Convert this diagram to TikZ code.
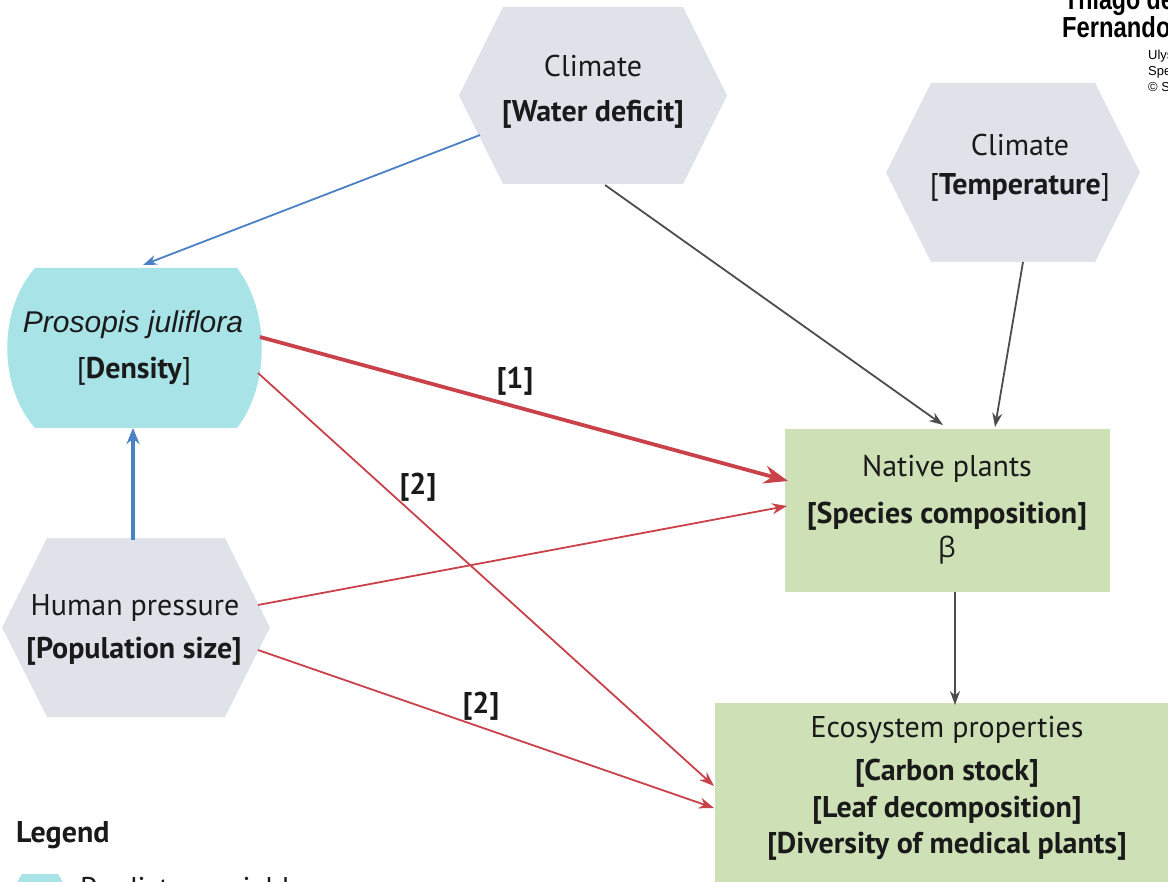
\documentclass[tikz,border=0pt]{standalone}
\usepackage{fontspec}
\setmainfont{PT Sans}
\newfontfamily\arialf{Liberation Sans}
\newfontfamily\grkf{Open Sans}
\usetikzlibrary{arrows.meta,calc}
\definecolor{hexgray}{HTML}{E0E2EA}
\definecolor{cyanf}{HTML}{A8E3E7}
\definecolor{greenf}{HTML}{CEE0B5}
\definecolor{redc}{HTML}{C9424A}
\definecolor{bluec}{HTML}{4A80C4}
\definecolor{grayc}{HTML}{4D4D4D}
\definecolor{textc}{HTML}{1A1A1A}
\tikzset{
  holder/.style={inner sep=0, outer sep=0, draw=none, rectangle},
  ln/.style={anchor=base, inner sep=0, text=textc, font=\fontsize{30}{34}\selectfont},
  tag/.style={anchor=base, inner sep=0, text=textc, font=\fontsize{30}{34}\selectfont\bfseries},
  thin/.style={line width=1.8pt},
  bluethin/.style={thin, draw=bluec, -{Stealth[length=14pt,width=10pt]}},
  bluethick/.style={line width=3.5pt, draw=bluec, -{Stealth[length=16pt,width=13pt]}},
  graythin/.style={thin, draw=grayc, -{Stealth[length=14pt,width=10pt]}},
  redthin/.style={thin, draw=redc, -{Stealth[length=15pt,width=11pt]}},
  redthick/.style={line width=3.8pt, draw=redc, -{Stealth[length=24pt,width=18pt]}},
}
\begin{document}
\begin{tikzpicture}[x=1pt,y=-1pt]
\useasboundingbox (0,0) rectangle (1168,882);
\clip (0,0) rectangle (1168,882);

% ---- shapes ----
\fill[hexgray] (459,95.5)--(503,7)--(683,7)--(727,95.5)--(683,184)--(503,184)--cycle;
\node[holder, minimum width=268, minimum height=177] (wd) at (593,95.5) {};

\fill[hexgray] (886,172.5)--(931,83)--(1095,83)--(1140,172.5)--(1095,262)--(931,262)--cycle;
\node[holder, minimum width=254, minimum height=179] (tp) at (1013,172.5) {};

\fill[hexgray] (2,627.5)--(47,538)--(225,538)--(270,627.5)--(225,717)--(47,717)--cycle;
\node[holder, minimum width=268, minimum height=179] (hp) at (136,627.5) {};

\fill[cyanf] (35,268) -- (237,268) .. controls (270,310) and (270,386) .. (237,428)
  -- (35,428) .. controls (-2,386) and (-2,310) .. (35,268) -- cycle;
\node[holder, minimum width=255, minimum height=160] (pj) at (134.5,348) {};

\node[holder, fill=greenf, minimum width=325, minimum height=163] (np) at (947.5,510.5) {};
\node[holder, fill=greenf, minimum width=475, minimum height=202] (ep) at (952.5,804) {};

% ---- texts ----
\node[ln] (wd1) at (593,77) {Climate};
\node[ln] (wd2) at (593,122) {\textbf{[Water deficit]}};
\node[ln] (tp1) at (1020,156) {Climate};
\node[ln] (tp2) at (1020,195) {[\textbf{Temperature}]};
\node[ln, font=\fontsize{30}{34}\selectfont\arialf\itshape] (pj1) at (133,333) {Prosopis juliflora};
\node[ln] (pj2) at (134,379) {[\textbf{Density}]};
\node[ln] (hp1) at (135,615) {Human pressure};
\node[ln] (hp2) at (134,658) {\textbf{[Population size]}};
\node[ln] (np1) at (947,477) {Native plants};
\node[ln] (np2) at (947,523) {\textbf{[Species composition]}};
\node[ln, font=\fontsize{28}{34}\selectfont\grkf] (np3) at (947,557) {β};
\node[ln] (ep1) at (947,737) {Ecosystem properties};
\node[ln] (ep2) at (947,780) {\textbf{[Carbon stock]}};
\node[ln] (ep3) at (947,817) {\textbf{[Leaf decomposition]}};
\node[ln] (ep4) at (947,853) {\textbf{[Diversity of medical plants]}};

% ---- connectors ----
\draw[bluethin] ($(wd.north west)+(21,128)$) -- ($(pj.north west)+(136,-3)$);
\draw[bluethick] ($(hp.north west)+(131,2)$) -- ($(pj.south west)+(126,0)$);
\draw[graythin] ($(wd.south west)+(146,1)$) -- ($(np.north west)+(158,-4)$);
\draw[graythin] ($(tp.south west)+(137,0)$) -- ($(np.north west)+(210,-2)$);
\draw[graythin] ($(np.south west)+(170,0)$) -- ($(ep.north west)+(240,2)$);
\draw[redthick] ($(pj.east)+(-2,-11)$) -- ($(np.west)+(3,-29.5)$);
\draw[redthin] ($(pj.east)+(-4,25)$) -- ($(ep.west)+(-1,-18)$);
\draw[redthin] ($(hp.east)+(-12,-22.5)$) -- ($(np.west)+(2,-4.5)$);
\draw[redthin] ($(hp.east)+(-12,22.5)$) -- ($(ep.west)+(-1,4)$);

\node[tag] (t1) at (515,389) {[1]};
\node[tag] (t2) at (418,495) {[2]};
\node[tag] (t3) at (481,713) {[2]};

% ---- legend ----
\node[anchor=base west, inner sep=0, text=textc, font=\fontsize{30}{34}\selectfont\bfseries] (leg) at (16,842) {Legend};
\fill[cyanf] (22,874) -- (58,874) .. controls (66,884) and (66,900) .. (58,910)
  -- (22,910) .. controls (14,900) and (14,884) .. (22,874) -- cycle;
\node[holder, minimum width=50, minimum height=36] (sw) at (40,892) {};
\node[ln, anchor=base west] (legt) at (80,898) {Predictor variable};

% ---- header (cut) ----
\node[anchor=base west, inner sep=0, font=\fontsize{29}{32}\selectfont\arialf\bfseries] (h1) at (1064,10) {\scalebox{0.8}[1]{Thiago de}};
\node[anchor=base west, inner sep=0, font=\fontsize{29}{32}\selectfont\arialf\bfseries] (h2) at (1062,38) {\scalebox{0.82}[1]{Fernando}};
\node[anchor=base west, inner sep=0, font=\fontsize{13}{15}\selectfont\arialf] (s1) at (1148,60) {Ulysses};
\node[anchor=base west, inner sep=0, font=\fontsize{13}{15}\selectfont\arialf] (s2) at (1148,76) {Spec};
\node[anchor=base west, inner sep=0, font=\fontsize{13}{15}\selectfont\arialf] (s3) at (1148,92) {© S};
\end{tikzpicture}
\end{document}
